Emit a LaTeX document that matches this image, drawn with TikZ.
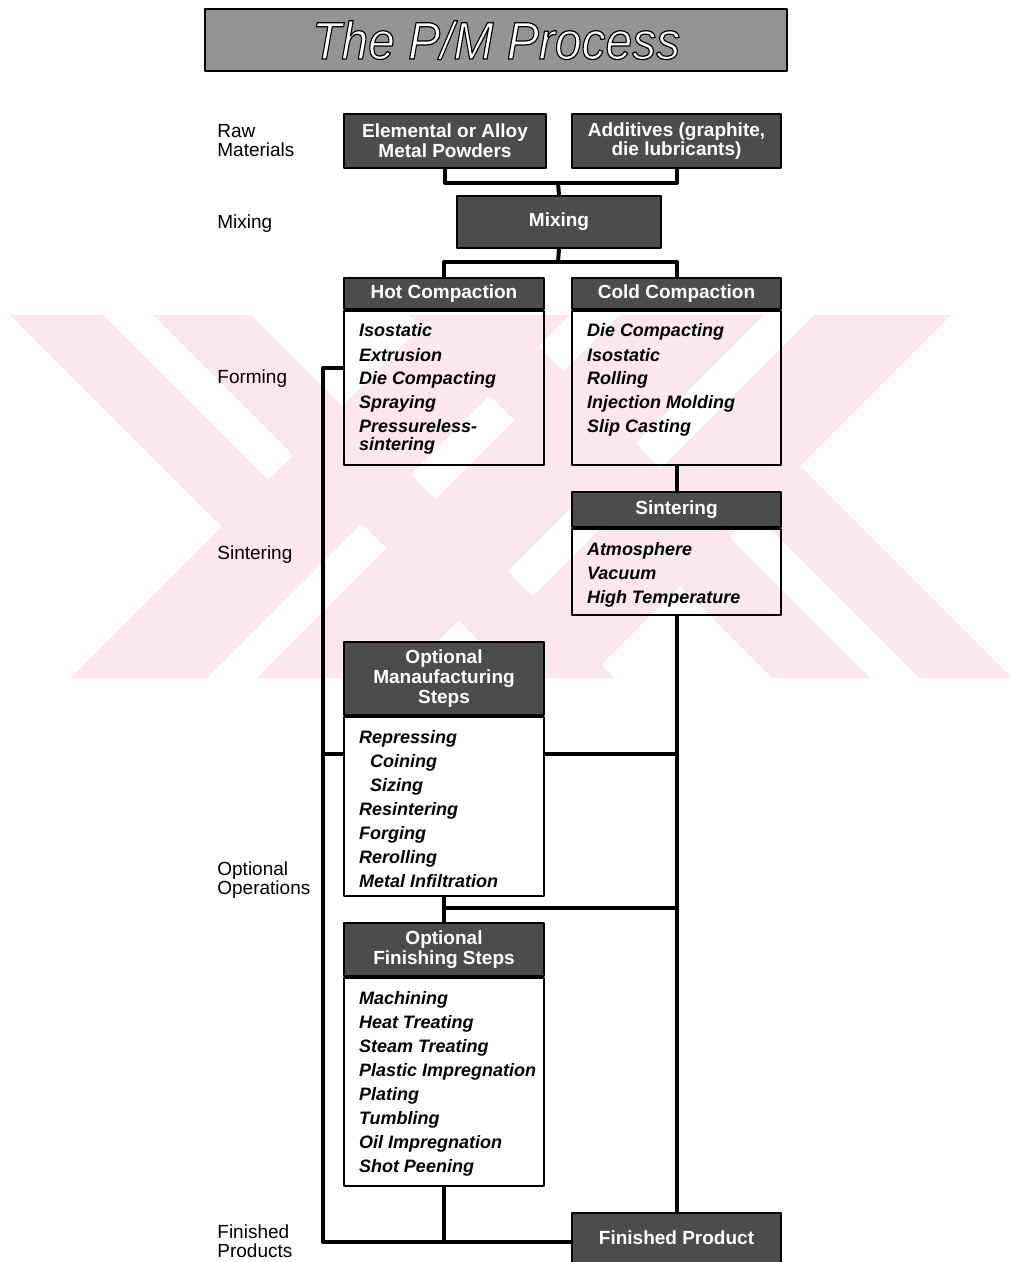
\documentclass[tikz,border=0pt]{standalone}
\usepackage{fontspec}
\setmainfont{Liberation Sans}
\usepackage{tikz}
\usetikzlibrary{calc}
\definecolor{wmpink}{RGB}{252,231,236}
\definecolor{headgray}{gray}{0.30}
\definecolor{titlegray}{gray}{0.58}
\newcommand{\itemfont}{\fontsize{9}{12}\selectfont\bfseries\itshape}
\newcommand{\headfont}{\fontsize{9.5}{9.8}\selectfont\bfseries}
\newcommand{\labelfont}{\fontsize{9.5}{9.5}\selectfont}
\newcommand{\itemstack}[3]{\parbox[t][#1][t]{#2}{\itemfont\raggedright\leftskip=7.5pt\vspace*{4.6pt}\strut#3}}
% white letters with a black rim (fill and stroke render mode)
\newcommand{\rimtext}[1]{\special{pdf:literal direct 0 G 0.55 w 2 Tr}#1\special{pdf:literal direct 0 Tr}}
\tikzset{
every picture/.style={line cap=round,line join=round},
dark box/.style={
  draw=black,
  line width=1pt,
  fill=headgray,
  text=white,
  font=\headfont,
  align=center,
  anchor=north west,
  inner sep=0pt
},
list box/.style={draw=black, line width=1pt, anchor=north west, inner sep=0pt},
title box/.style={draw=black, line width=1.2pt, fill=titlegray, text=white, anchor=north west,
  minimum width=291pt, minimum height=31pt, font=\fontsize{24}{28}\selectfont\itshape},
flow line/.style={draw=black, line width=2pt},
row label/.style={anchor=west, align=left, font=\labelfont, inner sep=0pt}
}
\begin{document}
\begin{tikzpicture}[x=0.5pt,y=-0.5pt]
\useasboundingbox (0,0) rectangle (1010,1262);
% watermark behind the chart
\begin{scope}
\clip (10,315) rectangle (1010,678);
\foreach \a/\b in {748/885,935/1079,1129/1266} {
\fill[wmpink] (\a-315,315) -- (\b-315,315) -- (\b-678,678) -- (\a-678,678) -- cycle;
}
\foreach \a/\b in {-162/-64,94/192} {
\fill[wmpink] (315+\a,315) -- (315+\b,315) -- (678+\b,678) -- (678+\a,678) -- cycle;
}
\fill[wmpink] (10,315) -- (103,315) -- (336.5,548.5) -- (290,595) -- cycle;
\fill[wmpink] (1012,678) -- (919,678) -- (685.5,444.5) -- (732,398) -- cycle;
\end{scope}

\node[title box] (title) at (204,8) {\scalebox{1}[1.1]{\rimtext{The P/M Process}}};

% stage names
\node[row label] (lab-raw) at (217,141) {Raw\\Materials};
\node[row label] (lab-mix) at (217,224) {Mixing};
\node[row label] (lab-form) at (217,379) {Forming};
\node[row label] (lab-sint) at (217,555) {Sintering};
\node[row label] (lab-opt) at (217,880) {Optional\\Operations};
\node[row label] (lab-fin) at (217,1241) {Finished\\Products};

% boxes
\node[dark box, minimum width=101pt, minimum height=27pt] (elem) at (343,113) {Elemental or Alloy\\Metal Powders};
\node[dark box, minimum width=104.5pt, minimum height=27pt] (addit) at (571,113) {Additives (graphite,\\die lubricants)};
\node[dark box, minimum width=102pt, minimum height=26pt] (mix) at (456,195) {Mixing};

\node[dark box, minimum width=100pt, minimum height=15.5pt] (hot-head) at (343,277) {Hot Compaction};
\node[list box] (hot-body) at (hot-head.south west) {\itemstack{77pt}{100pt}{Isostatic\\Extrusion\\Die Compacting\\Spraying\\Pressureless-\\[-3pt]sintering}};
\node[dark box, minimum width=104.5pt, minimum height=15.5pt] (cold-head) at (571,277) {Cold Compaction};
\node[list box] (cold-body) at (cold-head.south west) {\itemstack{77pt}{104.5pt}{Die Compacting\\Isostatic\\Rolling\\Injection Molding\\Slip Casting}};

\node[dark box, minimum width=104.5pt, minimum height=17.5pt] (sint-head) at (571,491) {Sintering};
\node[list box] (sint-body) at (sint-head.south west) {\itemstack{43pt}{104.5pt}{Atmosphere\\Vacuum\\High Temperature}};

\node[dark box, minimum width=100pt, minimum height=36.5pt] (oms-head) at (343,641) {Optional\\Manaufacturing\\Steps};
\node[list box] (oms-body) at (oms-head.south west) {\itemstack{89.5pt}{100pt}{Repressing\\\hspace*{5.5pt}Coining\\\hspace*{5.5pt}Sizing\\Resintering\\Forging\\Rerolling\\Metal Infiltration}};

\node[dark box, minimum width=100pt, minimum height=26.5pt] (ofs-head) at (343,922) {Optional\\Finishing Steps};
\node[list box] (ofs-body) at (ofs-head.south west) {\itemstack{104pt}{100pt}{Machining\\Heat Treating\\Steam Treating\\Plastic Impregnation\\Plating\\Tumbling\\Oil Impregnation\\Shot Peening}};

\node[dark box, minimum width=104.5pt, minimum height=25pt] (fin) at (571,1212) {Finished Product};

% connectors
\coordinate (feed) at (558,183);
\coordinate (split) at (558,262);
\draw[flow line] (elem.south) |- (feed) -| (addit.south);
\draw[flow line] (feed) -- (mix.north);
\draw[flow line] (mix.south) -- (split);
\draw[flow line] (hot-head.north) |- (split) -| (cold-head.north);
\draw[flow line] (cold-body.south) -- (sint-head.north);
\draw[flow line] (sint-body.south) -- (fin.north);

\coordinate (hot-tap) at (323,368);
\coordinate (loop-end) at (323,1242);
\draw[flow line] (hot-body.west |- hot-tap) -- (hot-tap) -- (loop-end) -- (loop-end -| fin.west);

\coordinate (oms-tap) at (323,754);
\coordinate (main-tap) at (675.5,754);
\coordinate (fin-tap) at (675.5,908);
\draw[flow line] (oms-tap) -- (oms-body.west |- oms-tap);
\draw[flow line] (oms-body.east |- main-tap) -- (main-tap);
\draw[flow line] (oms-body.south) -- (ofs-head.north);
\draw[flow line] (oms-body.south |- fin-tap) -- (fin-tap);
\draw[flow line] (ofs-body.south) -- (ofs-body.south |- loop-end);
\end{tikzpicture}
\end{document}
